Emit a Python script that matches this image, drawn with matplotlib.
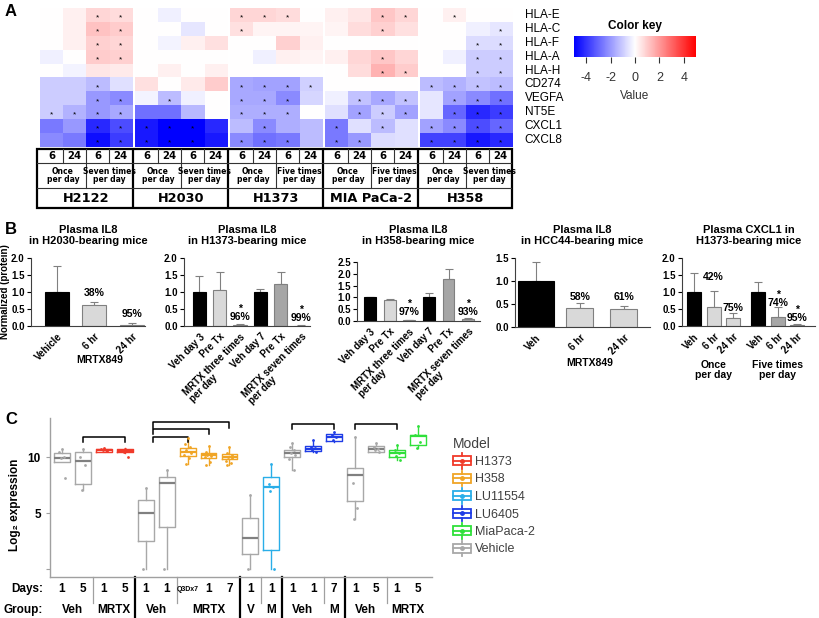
import numpy as np
import matplotlib
matplotlib.use('Agg')
import matplotlib.pyplot as plt
import matplotlib.transforms as mtransforms
from matplotlib.colors import LinearSegmentedColormap, Normalize
from matplotlib.cm import ScalarMappable
from matplotlib.legend_handler import HandlerBase
from matplotlib.lines import Line2D
from matplotlib.patches import Rectangle

plt.rcParams['font.family'] = ['Liberation Sans', 'DejaVu Sans']

W, H = 819, 618

# ---------------- data: panel A ----------------
genes = ['HLA-E', 'HLA-C', 'HLA-F', 'HLA-A', 'HLA-H', 'CD274', 'VEGFA', 'NT5E', 'CXCL1', 'CXCL8']
cell_lines = ['H2122', 'H2030', 'H1373', 'MIA PaCa-2', 'H358']
schedules = ['Seven times\nper day', 'Seven times\nper day', 'Five times\nper day',
             'Five times\nper day', 'Seven times\nper day']
hours = ['6', '24', '6', '24']

heat = np.array([
    # H2122               H2030                 H1373                 MIA PaCa-2            H358
    [0.0, 0.3, 0.8, 0.7,   0.0, -0.3, 0.0, 0.0,   0.8, 0.8, 0.7, 0.0,   0.3, 0.5, 1.1, 0.8,   0.0, 0.3, 0.0, 0.0],
    [0.0, 0.3, 1.2, 1.0,   0.0, 0.0, -0.5, 0.0,   0.6, 0.2, 0.2, 0.2,   0.2, 0.7, 0.9, 0.6,   0.0, 0.0, -0.3, -0.5],
    [0.0, 0.3, 0.9, 0.8,   0.0, -0.2, 0.3, 0.6,   0.0, 0.0, 0.9, 0.3,   0.0, 0.0, 0.0, 0.0,   0.0, 0.0, -0.7, -0.7],
    [-0.3, 0.0, 1.0, 0.9,  0.0, 0.0, 0.0, 0.0,    0.0, -0.3, 0.3, 0.2,  0.3, 0.8, 1.1, 0.8,   0.0, -0.3, -1.0, -1.0],
    [0.0, -0.2, 0.5, 0.4,  0.0, 0.3, 0.0, 0.3,    0.0, 0.0, 0.0, 0.0,   0.0, 0.7, 1.5, 1.0,   0.0, 0.0, -1.0, -1.0],
    [-1.0, -1.0, -1.3, -0.6, 0.6, 0.0, 0.4, 1.0,  -1.7, -1.8, -1.8, -0.9, 0.0, 0.0, 0.0, 0.0, -1.3, -1.5, -1.2, -1.3],
    [-1.0, -1.0, -2.0, -2.3, -0.2, -1.3, -0.3, 0.0, -1.7, -1.7, -2.3, -0.8, -0.3, -1.2, -1.7, -1.2, -0.5, -1.8, -2.3, -2.8],
    [-1.0, -1.5, -2.0, -1.7, -2.8, -2.8, -1.4, 0.0, -1.6, -1.6, -1.6, 0.0, -0.6, -1.8, -1.0, -1.8, -0.5, -3.0, -4.2, -3.8],
    [-2.6, -2.0, -4.2, -3.5, -4.5, -5.0, -5.0, -4.2, -1.3, -2.3, -1.6, -1.3, -2.6, -0.6, -1.3, -0.6, -1.8, -2.3, -3.5, -3.0],
    [-2.3, -2.6, -4.7, -3.8, -4.5, -5.0, -5.0, -4.5, -2.3, -2.8, -2.6, -1.3, -2.6, -2.0, -0.7, -0.6, -3.7, -3.7, -4.5, -4.2],
])

signif = np.array([
    [0, 0, 1, 1, 0, 0, 0, 0, 1, 1, 1, 0, 0, 0, 1, 1, 0, 1, 0, 0],
    [0, 0, 1, 1, 0, 0, 0, 0, 1, 0, 0, 0, 0, 0, 1, 0, 0, 0, 0, 1],
    [0, 0, 1, 1, 0, 0, 0, 0, 0, 0, 0, 0, 0, 0, 0, 0, 0, 0, 1, 1],
    [0, 0, 1, 1, 0, 0, 0, 0, 0, 0, 0, 0, 0, 0, 1, 0, 0, 0, 1, 1],
    [0, 0, 0, 0, 0, 0, 0, 0, 0, 0, 0, 0, 0, 0, 1, 1, 0, 0, 1, 1],
    [0, 0, 1, 0, 0, 0, 0, 0, 1, 1, 1, 1, 0, 0, 0, 0, 1, 1, 1, 1],
    [0, 0, 1, 1, 0, 1, 0, 0, 1, 1, 1, 0, 0, 1, 1, 1, 0, 1, 1, 1],
    [1, 1, 1, 1, 0, 0, 0, 0, 1, 1, 1, 0, 0, 1, 1, 1, 0, 1, 1, 1],
    [0, 0, 1, 1, 1, 1, 1, 0, 0, 1, 0, 0, 1, 0, 1, 0, 1, 1, 1, 1],
    [0, 0, 1, 1, 1, 1, 1, 0, 1, 1, 1, 0, 1, 1, 0, 0, 1, 1, 1, 1],
])

# ---------------- data: panel B ----------------
b1_labels = ['Vehicle', '6 hr', '24 hr']
b1_mean = [1.0, 0.62, 0.04]
b1_err = [0.75, 0.10, 0.06]
b1_pct = ['', '38%', '95%']

b2_labels = ['Veh day 3', 'Pre Tx', 'MRTX three times\nper day', 'Veh day 7', 'Pre Tx',
             'MRTX seven times\nper day']
b2_mean = [1.0, 1.07, 0.04, 1.0, 1.23, 0.01]
b2_err = [0.47, 0.53, 0.01, 0.08, 0.37, 0.01]
b2_pct = ['', '', '*\n96%', '', '', '*\n99%']

b3_labels = b2_labels
b3_mean = [1.0, 0.90, 0.03, 1.0, 1.80, 0.07]
b3_err = [0.03, 0.02, 0.01, 0.17, 0.40, 0.05]
b3_pct = ['', '', '*\n97%', '', '', '*\n93%']

b4_labels = ['Veh', '6 hr', '24 hr']
b4_mean = [1.0, 0.42, 0.39]
b4_err = [0.42, 0.10, 0.06]
b4_pct = ['', '58%', '61%']

b5_labels = ['Veh', '6 hr', '24 hr', 'Veh', '6 hr', '24 hr']
b5_mean = [1.0, 0.57, 0.24, 1.0, 0.26, 0.04]
b5_err = [0.55, 0.45, 0.13, 0.28, 0.31, 0.01]
b5_pct = ['', '42%', '75%', '', '*\n74%', '*\n95%']

# ---------------- data: panel C ----------------
c_models = ['Vehicle', 'Vehicle', 'H1373', 'H1373', 'Vehicle', 'Vehicle', 'H358', 'H358', 'H358',
            'Vehicle', 'LU11554', 'Vehicle', 'LU6405', 'LU6405', 'Vehicle', 'Vehicle',
            'MiaPaca-2', 'MiaPaca-2']
c_days = ['1', '5', '1', '5', '1', '1', 'Q3Dx7', '1', '7', '1', '1', '1', '1', '7', '1', '5', '1', '5']
c_groups = ['Veh', 'MRTX', 'Veh', 'MRTX', 'V', 'M', 'Veh', 'M', 'Veh', 'MRTX']
c_group_pos = [0.5, 2.5, 4.5, 7.0, 9.0, 10.0, 11.5, 13.0, 14.5, 16.5]
c_q1 = [9.6, 7.6, 10.5, 10.45, 2.5, 3.8, 10.1, 9.97, 9.8, 1.35, 1.7, 10.03, 10.57, 11.46,
        6.1, 10.48, 10.03, 11.13]
c_med = [9.95, 9.65, 10.63, 10.57, 5.05, 7.7, 10.42, 10.18, 10.03, 2.75, 7.3, 10.4, 10.77,
         11.76, 8.4, 10.7, 10.39, 11.85]
c_q3 = [10.35, 10.45, 10.75, 10.7, 6.15, 8.25, 10.85, 10.33, 10.27, 4.6, 8.25, 10.63, 10.98,
        12.05, 9.0, 10.98, 10.68, 12.02]
c_lo = [9.6, 7.05, 10.45, 10.4, 0.0, 0.0, 9.4, 9.3, 9.3, 0.0, 0.0, 8.85, 10.45, 11.4, 4.5,
        10.45, 9.73, 10.83]
c_hi = [10.7, 10.7, 10.85, 10.8, 7.25, 8.85, 11.7, 11.0, 10.9, 6.6, 9.4, 11.3, 11.5, 12.25,
        11.8, 11.3, 11.07, 12.77]
c_points = [
    [10.7, 10.5, 10.0, 9.9, 8.1],
    [10.7, 10.05, 9.3, 7.05],
    [10.8, 10.7, 10.6, 10.6, 10.55],
    [10.75, 10.6, 10.55, 10.5, 10.05],
    [7.25, 0.0],
    [8.85, 0.0],
    [11.7, 11.2, 10.9, 10.6, 10.4, 10.2, 9.9, 9.4],
    [11.0, 10.5, 10.3, 10.2, 10.1, 10.0, 9.6, 9.3],
    [10.9, 10.4, 10.2, 10.0, 9.9, 9.7, 9.5, 9.3],
    [6.6, 0.0],
    [9.4, 7.6, 7.3, 7.0, 0.0],
    [11.3, 10.9, 10.6, 10.4, 10.2, 9.8, 8.85],
    [11.5, 10.9, 10.8, 10.6, 10.5],
    [12.25, 12.0, 11.8, 11.5],
    [11.8, 7.7, 5.5, 4.5],
    [11.3, 10.9, 10.7, 10.6, 10.45],
    [11.07, 10.6, 10.4, 10.1, 9.73],
    [12.77, 12.0, 11.4, 10.83],
]
# comparisons (left, right, height)
c_brackets = [(1, 3, 11.8), (4.35, 6, 11.8), (4.35, 7, 12.5), (4.35, 8, 13.1),
              (11, 13, 13.0), (14, 16, 13.0)]

model_colors = {'H1373': '#f03a2a', 'H358': '#f0a526', 'LU11554': '#2aaee8',
                'LU6405': '#1f3de6', 'MiaPaca-2': '#2fe03a', 'Vehicle': '#a8a8a8'}

fig = plt.figure(figsize=(W / 100, H / 100), dpi=100)


def px_axes(l, t, r, b):
    return fig.add_axes([l / W, 1 - b / H, (r - l) / W, (b - t) / H])


# ================= Panel A =================
gap = 0.13
xmax = 20 + 4 * gap
cmap = LinearSegmentedColormap.from_list('key', ['#0000ff', '#ffffff', '#ff0000'])
hax = px_axes(40, 8, 512, 147)
for k in range(5):
    x0 = k * (4 + gap)
    hax.imshow(heat[:, 4 * k:4 * k + 4], cmap=cmap, vmin=-5, vmax=5,
               extent=(x0, x0 + 4, 10, 0), aspect='auto', interpolation='nearest')
    rows, cols = np.nonzero(signif[:, 4 * k:4 * k + 4])
    for i, j in zip(rows, cols):
        hax.text(x0 + j + 0.5, i + 0.72, '*', ha='center', va='center', fontsize=6)
hax.set_xlim(0, xmax)
hax.set_ylim(10, 0)
hax.axis('off')
for i, g in enumerate(genes):
    hax.text(xmax + 0.55, i + 0.5, g, ha='left', va='center', fontsize=8.5)

# table under the heatmap
tax = px_axes(37, 149, 512, 208)
tax.set_xlim(-0.13, xmax)
tax.set_ylim(59, 0)
tax.axis('off')
tf = dict(family='DejaVu Sans', fontweight='bold', ha='center', va='center')
for k in range(5):
    x0 = k * (4 + gap)
    for j in (1, 3):
        tax.plot([x0 + j] * 2, [0, 14], color='#333333', lw=0.8)
    tax.plot([x0 + 2] * 2, [0, 39], color='#333333', lw=0.8)
    for j, hr in enumerate(hours):
        tax.text(x0 + j + 0.5, 7.3, hr, fontsize=7.3, **tf)
    tax.text(x0 + 1, 26.5, 'Once\nper day', fontsize=5.5, linespacing=0.95, **tf)
    tax.text(x0 + 3, 26.5, schedules[k], fontsize=5.5, linespacing=0.95, **tf)
    tax.text(x0 + 2, 49, cell_lines[k], fontsize=9.3, **tf)
    if k > 0:
        tax.plot([x0 - gap / 2] * 2, [0, 59], color='black', lw=1.6)
tax.plot([-0.13, xmax], [14, 14], color='#333333', lw=0.8)
tax.plot([-0.13, xmax], [39, 39], color='#333333', lw=0.8)
tax.add_patch(Rectangle((-0.13, 0), xmax + 0.13, 59, fill=False, lw=1.6, ec='black',
                        clip_on=False))

# color key
kax = px_axes(574, 36, 696, 57)
cb = fig.colorbar(ScalarMappable(norm=Normalize(-5, 5), cmap=cmap), cax=kax,
                  orientation='horizontal', ticks=[-4, -2, 0, 2, 4])
cb.outline.set_visible(False)
kax.tick_params(labelsize=9, length=4, width=0.8, pad=7, colors='#333333')
kax.set_xticklabels(['-4', '-2', '0', '2', '4'])
kax.set_title('Color key', fontsize=8.5, fontweight='bold', pad=5)
kax.set_xlabel('Value', fontsize=8.5, labelpad=4, color='#333333')


# ================= Panel B =================
def bar_panel(box, xs, means, errs, colors, width, xlim, ylim, yticks, labels, pct, pct_y,
              title):
    ax = px_axes(*box)
    edges = ['black' if c == 'black' else '#808080' for c in colors]
    ax.errorbar(xs, means, yerr=[np.zeros(len(errs)), errs], fmt='none', ecolor='#808080',
                elinewidth=0.8, capsize=3, capthick=0.8, zorder=1)
    ax.bar(xs, means, width=width, color=colors, edgecolor=edges, linewidth=0.8, zorder=2)
    for x, t, y in zip(xs, pct, pct_y):
        if t:
            ax.text(x, y, t, ha='center', va='bottom', fontsize=7.5, fontweight='bold',
                    linespacing=0.8)
    ax.set_xlim(xlim)
    ax.set_ylim(ylim)
    ax.set_yticks(yticks)
    ax.set_yticklabels([f'{v:.1f}' for v in yticks], fontweight='bold')
    ax.set_xticks(xs)
    ax.set_xticklabels(labels, rotation=45, ha='right', rotation_mode='anchor',
                       multialignment='left', fontweight='bold', linespacing=0.9)
    ax.tick_params(axis='x', length=0, pad=4, labelsize=7)
    ax.tick_params(axis='y', length=3, width=0.8, labelsize=7, pad=1.5)
    for s in ('top', 'right'):
        ax.spines[s].set_visible(False)
    for s in ('left', 'bottom'):
        ax.spines[s].set_linewidth(0.8)
        ax.spines[s].set_color('#404040')
    cx = (box[0] + box[2]) / 2
    fig.text(cx / W, 1 - 246 / H, title, ha='center', va='bottom', fontsize=8,
             fontweight='bold', linespacing=1.1)
    return ax


lt, dk = '#d9d9d9', '#a6a6a6'
ax1 = bar_panel((31, 258, 145, 326), [0, 1, 2], b1_mean, b1_err, ['black', lt, lt], 0.64,
                (-0.69, 2.35), (0, 2.0), [0, 0.5, 1.0, 1.5, 2.0], b1_labels, b1_pct,
                [0, 0.82, 0.2], 'Plasma IL8\nin H2030-bearing mice')
ax1.text(1.15, -0.5, 'MRTX849', transform=mtransforms.blended_transform_factory(
    ax1.transData, ax1.transAxes), ha='center', va='center', fontsize=7.5, fontweight='bold')

bar_panel((184, 258, 310, 326), list(range(6)), b2_mean, b2_err,
          ['black', lt, lt, 'black', dk, dk], 0.65, (-0.76, 5.44), (0, 2.0),
          [0, 0.5, 1.0, 1.5, 2.0], b2_labels, b2_pct, [0, 0, 0.11, 0, 0, 0.08],
          'Plasma IL8\nin H1373-bearing mice')

bar_panel((357, 262, 480, 321), list(range(6)), b3_mean, b3_err,
          ['black', lt, lt, 'black', dk, dk], 0.6, (-0.66, 5.6), (0, 2.5),
          [0, 0.5, 1.0, 1.5, 2.0, 2.5], b3_labels, b3_pct, [0, 0, 0.17, 0, 0, 0.17],
          'Plasma IL8\nin H358-bearing mice')

ax4 = bar_panel((515, 258, 650, 327), [0, 1, 2], b4_mean, b4_err, ['black', lt, lt],
                [0.82, 0.62, 0.62], (-0.48, 2.6), (0, 1.5), [0, 0.5, 1.0, 1.5], b4_labels,
                b4_pct, [0, 0.54, 0.54], 'Plasma IL8\nin HCC44-bearing mice')
ax4.text(1.23, -0.52, 'MRTX849', transform=mtransforms.blended_transform_factory(
    ax4.transData, ax4.transAxes), ha='center', va='center', fontsize=7.5, fontweight='bold')

b5_x = [0, 1, 2, 3.3, 4.3, 5.3]
ax5 = bar_panel((682, 258, 815, 326), b5_x, b5_mean, b5_err,
                ['black', lt, lt, 'black', dk, dk], 0.72, (-0.62, 6.2), (0, 2.0),
                [0, 0.5, 1.0, 1.5, 2.0], b5_labels, b5_pct, [0, 1.29, 0.38, 0, 0.53, 0.08],
                'Plasma CXCL1 in\nH1373-bearing mice')
t5 = mtransforms.blended_transform_factory(ax5.transData, ax5.transAxes)
ax5.text(1, -0.64, 'Once\nper day', transform=t5, ha='center', va='center', fontsize=7.5,
         fontweight='bold', linespacing=1.0)
ax5.text(4.3, -0.64, 'Five times\nper day', transform=t5, ha='center', va='center',
         fontsize=7.5, fontweight='bold', linespacing=1.0)

fig.text(5 / W, 1 - 292 / H, 'Normalized (protein)', rotation=90, ha='center',
         va='center', fontsize=7, fontweight='bold')

# ================= Panel C =================
cax = px_axes(50, 418, 432, 577)
offsets = [0.0, -0.12, 0.1, -0.06, 0.14, -0.15, 0.06, -0.1]
for i, m in enumerate(c_models):
    col = model_colors[m]
    mcol = '#808080' if m == 'Vehicle' else col
    st = dict(med=c_med[i], q1=c_q1[i], q3=c_q3[i], whislo=c_lo[i], whishi=c_hi[i], fliers=[])
    cax.bxp([st], positions=[i], widths=0.76, showcaps=False, showfliers=False,
            boxprops=dict(color=col, lw=1.0), whiskerprops=dict(color=col, lw=1.0),
            medianprops=dict(color=mcol, lw=1.6))
    pts = c_points[i]
    cax.scatter([i + offsets[j % len(offsets)] for j in range(len(pts))], pts, s=4,
                color=col, zorder=3, linewidths=0)
for x0, x1, y in c_brackets:
    cax.plot([x0, x0, x1, x1], [y - 0.45, y, y, y - 0.45], color='black', lw=1.1,
             clip_on=False)
cax.set_xlim(-0.57, 17.67)
cax.set_ylim(-0.7, 13.5)
cax.set_yticks([0, 5, 10])
cax.set_yticklabels(['', '5', '10'], fontweight='bold')
cax.set_xticks([])
cax.tick_params(axis='y', length=3, colors='#a0a0a0', labelcolor='black', labelsize=8.5)
for s in ('top', 'right'):
    cax.spines[s].set_visible(False)
for s in ('left', 'bottom'):
    cax.spines[s].set_color('#a0a0a0')
    cax.spines[s].set_linewidth(1.0)

tc = mtransforms.blended_transform_factory(cax.transData, cax.transAxes)
for i, d in enumerate(c_days):
    cax.text(i, -0.0755, d, transform=tc, ha='center', va='center',
             fontsize=5 if len(d) > 1 else 8.5, fontweight='bold')
for x, g in zip(c_group_pos, c_groups):
    cax.text(x, -0.2075, g, transform=tc, ha='center', va='center', fontsize=8.5,
             fontweight='bold')
for x in (1.5, 5.5, 9.5, 12.5, 15.5):
    cax.plot([x, x], [0, -0.164], transform=tc, color='#a0a0a0', lw=0.9, clip_on=False)
for x in (3.5, 8.5, 10.5, 13.5):
    cax.plot([x, x], [0, -0.26], transform=tc, color='black', lw=1.6, clip_on=False)
fig.text(43 / W, 1 - 589 / H, 'Days:', ha='right', va='center', fontsize=8.5,
         fontweight='bold')
fig.text(43 / W, 1 - 610 / H, 'Group:', ha='right', va='center', fontsize=8.5,
         fontweight='bold')
fig.text(15 / W, 1 - 505 / H, 'Log\u2082 expression', rotation=90, ha='center', va='center',
         fontsize=8.5, fontweight='bold')


# legend with boxplot glyphs
class BoxHandler(HandlerBase):
    def create_artists(self, legend, orig_handle, xdescent, ydescent, width, height,
                       fontsize, trans):
        c = orig_handle.get_color()
        x0, y0 = -xdescent, -ydescent
        bw, bh = width, height * 0.6
        by = y0 + (height - bh) / 2
        cxm = x0 + width / 2
        arts = [Rectangle((x0, by), bw, bh, fill=False, ec=c, lw=1.3, transform=trans),
                Line2D([cxm, cxm], [y0, by], color=c, lw=1.3, transform=trans),
                Line2D([cxm, cxm], [by + bh, y0 + height], color=c, lw=1.3, transform=trans),
                Line2D([x0, x0 + bw], [by + bh / 2] * 2, color=c, lw=1.3, transform=trans),
                Line2D([cxm], [by + bh / 2], marker='o', ms=2.5, color=c, transform=trans)]
        return arts


legend_models = ['H1373', 'H358', 'LU11554', 'LU6405', 'MiaPaca-2', 'Vehicle']
handles = [Line2D([], [], color=model_colors[m]) for m in legend_models]
leg = fig.legend(handles, legend_models, loc='upper left',
                 bbox_to_anchor=(453 / W, 1 - 437 / H), frameon=False, title='Model',
                 alignment='left', fontsize=9, title_fontsize=10, handlelength=1.4,
                 handleheight=1.5, labelspacing=0.18, handletextpad=0.35, borderpad=0,
                 borderaxespad=0, handler_map={Line2D: BoxHandler()})
for t in leg.get_texts():
    t.set_color('#404040')
leg.get_title().set_color('#404040')

# panel letters
fig.text(5 / W, 1 - 11 / H, 'A', fontsize=12, fontweight='bold', va='center')
fig.text(5 / W, 1 - 229 / H, 'B', fontsize=12, fontweight='bold', va='center')
fig.text(5 / W, 1 - 419 / H, 'C', fontsize=12, fontweight='bold', va='center')

fig.savefig('out.png', dpi=100)
